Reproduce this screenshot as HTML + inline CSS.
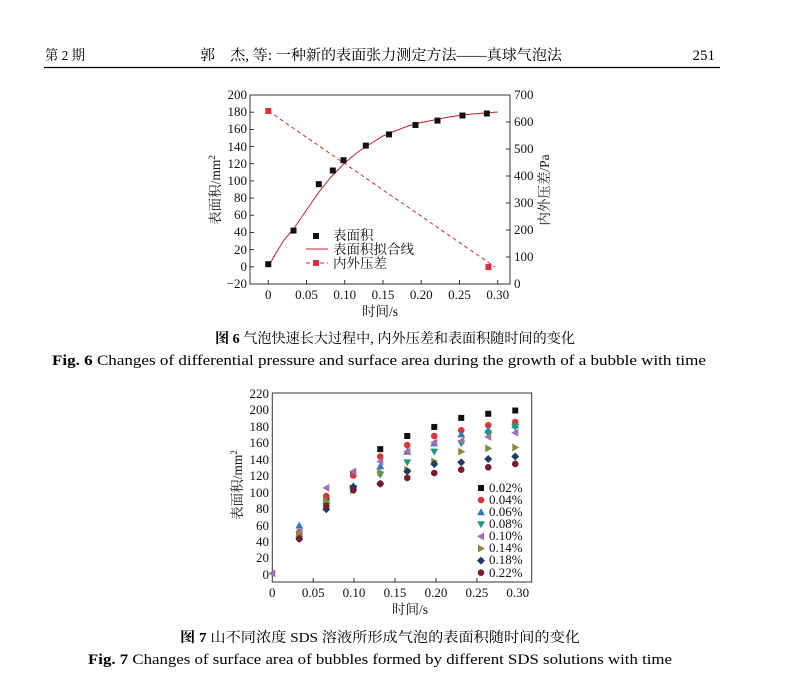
<!DOCTYPE html>
<html><head><meta charset="utf-8"><style>
body{margin:0;background:#fff;}
svg{display:block;font-family:"Liberation Serif","Noto Serif CJK SC",serif;}
.cj{font-family:"Liberation Serif","Noto Serif CJK SC","Noto Sans CJK SC",serif;}
</style></head><body>
<svg width="802" height="676" viewBox="0 0 802 676" xmlns="http://www.w3.org/2000/svg">
<!-- header -->
<text x="45" y="60" font-size="14" class="cj" textLength="40" lengthAdjust="spacingAndGlyphs">第 2 期</text>
<text x="200" y="60" font-size="14.5" class="cj" textLength="362" lengthAdjust="spacingAndGlyphs">郭　杰, 等: 一种新的表面张力测定方法——真球气泡法</text>
<text x="715" y="60" font-size="15" text-anchor="end">251</text>
<line x1="44" y1="67.5" x2="720" y2="67.5" stroke="#000" stroke-width="1.2"/>

<!-- FIG 6 -->
<g font-size="13" fill="#111">
<rect x="250" y="95" width="260" height="189" fill="none" stroke="#333" stroke-width="1"/>
<g text-anchor="end">
<text x="247" y="99">200</text><text x="247" y="116">180</text><text x="247" y="133">160</text>
<text x="247" y="151">140</text><text x="247" y="168">120</text><text x="247" y="185">100</text>
<text x="247" y="202">80</text><text x="247" y="219">60</text><text x="247" y="236">40</text>
<text x="247" y="254">20</text><text x="247" y="271">0</text><text x="247" y="288">−20</text>
</g>
<g stroke="#333">
<line x1="250" y1="112.2" x2="254" y2="112.2"/><line x1="250" y1="129.4" x2="254" y2="129.4"/>
<line x1="250" y1="146.5" x2="254" y2="146.5"/><line x1="250" y1="163.7" x2="254" y2="163.7"/>
<line x1="250" y1="180.9" x2="254" y2="180.9"/><line x1="250" y1="198.1" x2="254" y2="198.1"/>
<line x1="250" y1="215.3" x2="254" y2="215.3"/><line x1="250" y1="232.5" x2="254" y2="232.5"/>
<line x1="250" y1="249.6" x2="254" y2="249.6"/><line x1="250" y1="266.8" x2="254" y2="266.8"/>
<line x1="506" y1="122" x2="510" y2="122"/><line x1="506" y1="149" x2="510" y2="149"/>
<line x1="506" y1="176" x2="510" y2="176"/><line x1="506" y1="203" x2="510" y2="203"/>
<line x1="506" y1="230" x2="510" y2="230"/><line x1="506" y1="257" x2="510" y2="257"/>
<line x1="268.3" y1="284" x2="268.3" y2="280"/><line x1="306.5" y1="284" x2="306.5" y2="280"/>
<line x1="344.7" y1="284" x2="344.7" y2="280"/><line x1="383" y1="284" x2="383" y2="280"/>
<line x1="421.2" y1="284" x2="421.2" y2="280"/><line x1="459.5" y1="284" x2="459.5" y2="280"/>
<line x1="497.7" y1="284" x2="497.7" y2="280"/>
</g>
<g text-anchor="start">
<text x="514" y="99">700</text><text x="514" y="126">600</text><text x="514" y="153">500</text>
<text x="514" y="180">400</text><text x="514" y="207">300</text><text x="514" y="234">200</text>
<text x="514" y="261">100</text><text x="514" y="288">0</text>
</g>
<g text-anchor="middle">
<text x="268.3" y="299">0</text><text x="306.5" y="299">0.05</text><text x="344.7" y="299">0.10</text>
<text x="383" y="299">0.15</text><text x="421.2" y="299">0.20</text><text x="459.5" y="299">0.25</text>
<text x="497.7" y="299">0.30</text>
</g>
<text x="380" y="316" text-anchor="middle" class="cj" font-size="13.5">时间/s</text>
<text transform="translate(220,190) rotate(-90)" text-anchor="middle" class="cj" font-size="13.5">表面积/mm<tspan dy="-5" font-size="9">2</tspan></text>
<text transform="translate(549,190) rotate(-90)" text-anchor="middle" class="cj" font-size="13.5">内外压差/Pa</text>
<line x1="268.3" y1="111" x2="495" y2="267" stroke="#c83040" stroke-width="1" stroke-dasharray="4,3"/>
<rect x="265.3" y="108" width="6" height="6" fill="#e03040"/>
<rect x="485.5" y="264" width="6" height="6" fill="#e03040"/>
<polyline fill="none" stroke="#c02030" stroke-width="1" points="268.3,266.8 276,253 284,240 293.5,229 306.5,210 319,192 331,177 344.7,163 357.8,152 370,144 383,136 395,131 408,126 421.2,122.5 434,120 446,117.5 459.5,115.5 472,114 485,113 497.7,112"/>
<g fill="#111">
<rect x="265.3" y="261.2" width="6" height="6"/><rect x="290.5" y="227.6" width="6" height="6"/>
<rect x="315.8" y="181.2" width="6" height="6"/><rect x="329.8" y="167.5" width="6" height="6"/>
<rect x="340.5" y="157.2" width="6" height="6"/><rect x="362.8" y="142.6" width="6" height="6"/>
<rect x="386" y="131.4" width="6" height="6"/><rect x="412.5" y="122" width="6" height="6"/>
<rect x="434.5" y="117.6" width="6" height="6"/><rect x="459.5" y="112.5" width="6" height="6"/>
<rect x="483.8" y="110.5" width="6" height="6"/>
</g>
<rect x="313" y="233" width="6" height="6" fill="#111"/>
<text x="333" y="240" class="cj" font-size="13.5">表面积</text>
<line x1="306" y1="249" x2="328" y2="249" stroke="#c02030"/>
<text x="333" y="254" class="cj" font-size="13.5">表面积拟合线</text>
<line x1="306" y1="263" x2="328" y2="263" stroke="#c83040" stroke-dasharray="4,3"/>
<rect x="313" y="260" width="6" height="6" fill="#e03040"/>
<text x="333" y="268" class="cj" font-size="13.5">内外压差</text>
</g>
<text x="215" y="343" font-size="14" class="cj" textLength="360" lengthAdjust="spacingAndGlyphs"><tspan font-weight="bold">图 6</tspan>  气泡快速长大过程中, 内外压差和表面积随时间的变化</text>
<text x="52" y="365" font-size="14.5" textLength="654" lengthAdjust="spacingAndGlyphs"><tspan font-weight="bold">Fig. 6</tspan>  Changes of differential pressure and surface area during the growth of a bubble with time</text>

<!-- FIG 7 -->
<g font-size="13" fill="#111">
<rect x="272.3" y="393" width="259.4" height="189" fill="none" stroke="#333"/>
<g text-anchor="end">
<text x="269" y="398">220</text><text x="269" y="414">200</text><text x="269" y="431">180</text>
<text x="269" y="447">160</text><text x="269" y="464">140</text><text x="269" y="480">120</text>
<text x="269" y="497">100</text><text x="269" y="513">80</text><text x="269" y="530">60</text>
<text x="269" y="546">40</text><text x="269" y="562">20</text><text x="269" y="579">0</text>
</g>
<g text-anchor="middle">
<text x="272.3" y="597">0</text><text x="313.2" y="597">0.05</text><text x="354" y="597">0.10</text>
<text x="395" y="597">0.15</text><text x="436" y="597">0.20</text><text x="476.9" y="597">0.25</text>
<text x="517.7" y="597">0.30</text>
</g>
<g stroke="#333">
<line x1="313.2" y1="582" x2="313.2" y2="578"/><line x1="354" y1="582" x2="354" y2="578"/>
<line x1="395" y1="582" x2="395" y2="578"/><line x1="436" y1="582" x2="436" y2="578"/>
<line x1="476.9" y1="582" x2="476.9" y2="578"/>
</g>
<text x="410" y="614" text-anchor="middle" class="cj" font-size="13.5">时间/s</text>
<text transform="translate(242,485) rotate(-90)" text-anchor="middle" class="cj" font-size="13.5">表面积/mm<tspan dy="-5" font-size="9">2</tspan></text>
<g id="pts"></g>
<g font-size="13">
<text x="489" y="492">0.02%</text><text x="489" y="504">0.04%</text><text x="489" y="516">0.06%</text>
<text x="489" y="528">0.08%</text><text x="489" y="540">0.10%</text><text x="489" y="552">0.14%</text>
<text x="489" y="564">0.18%</text><text x="489" y="577">0.22%</text>
</g>
</g>
<text x="180" y="642" font-size="14" class="cj" textLength="400" lengthAdjust="spacingAndGlyphs"><tspan font-weight="bold">图 7</tspan>  山不同浓度 SDS 溶液所形成气泡的表面积随时间的变化</text>
<text x="88" y="664" font-size="14.5" textLength="584" lengthAdjust="spacingAndGlyphs"><tspan font-weight="bold">Fig. 7</tspan>  Changes of surface area of bubbles formed by different SDS solutions with time</text>
<script>
(function(){
var g=document.getElementById('pts'),NS='http://www.w3.org/2000/svg';
var ts=[0,.033,.066,.099,.132,.165,.198,.231,.264,.297];
var S=[
['sq','#111',[null,50,93,122,153,169,180,191,196,200]],
['ci','#d9363e',[null,52,96,121,144,158,169,176,182,186]],
['up','#2e7bb8',[null,60,90,108,132,150,160,171,176,182]],
['dn','#1e9a7a',[null,44,88,106,122,137,150,160,172,180]],
['lt','#a070b0',[2,52,106,126,138,150,161,163,168,173]],
['rt','#8a8a3a',[null,50,90,103,125,128,138,150,154,155]],
['di','#1f3a6a',[null,44,80,107,111,126,135,137,141,144]],
['ci','#7a1a2a',[null,44,84,103,111,118,124,128,131,135]]];
function X(t){return 272.3+t/0.05*40.9;}
function Y(v){return 575-v/20*16.45;}
function mk(type,c,x,y){var e;
 if(type=='sq'){e=document.createElementNS(NS,'rect');e.setAttribute('x',x-3);e.setAttribute('y',y-3);e.setAttribute('width',6);e.setAttribute('height',6);}
 else if(type=='ci'){e=document.createElementNS(NS,'circle');e.setAttribute('cx',x);e.setAttribute('cy',y);e.setAttribute('r',3.3);}
 else{e=document.createElementNS(NS,'polygon');var p;
  if(type=='up')p=[[x,y-4],[x+4,y+3],[x-4,y+3]];
  else if(type=='dn')p=[[x,y+4],[x+4,y-3],[x-4,y-3]];
  else if(type=='lt')p=[[x-4,y],[x+3,y-4],[x+3,y+4]];
  else if(type=='rt')p=[[x+4,y],[x-3,y-4],[x-3,y+4]];
  else p=[[x,y-4],[x+4,y],[x,y+4],[x-4,y]];
  e.setAttribute('points',p.map(function(a){return a.join(',')}).join(' '));}
 e.setAttribute('fill',c);g.appendChild(e);}
S.forEach(function(s,i){s[2].forEach(function(v,j){if(v!=null)mk(s[0],s[1],X(ts[j]),Y(v));});
 mk(s[0],s[1],481,488+i*12.1);});
})();
</script>
</svg>
</body></html>
